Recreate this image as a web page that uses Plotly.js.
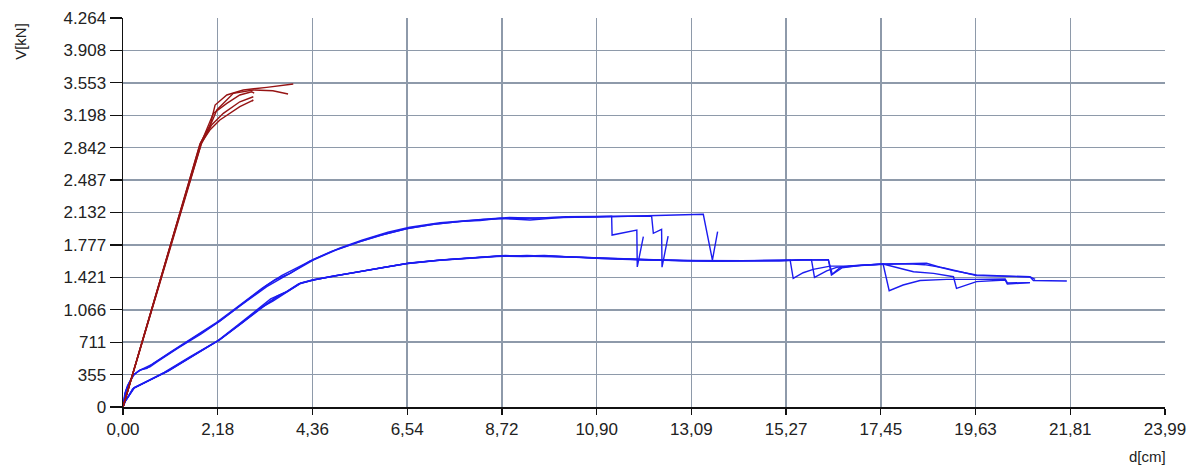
<!DOCTYPE html>
<html><head><meta charset="utf-8">
<script src="https://cdn.plot.ly/plotly-3.0.1.min.js"></script>
<style>html,body{margin:0;padding:0;background:#fff}#chart{width:1200px;height:470px}</style>
</head><body><div id="chart"></div>
<script>
// ---- axis ticks ----
const xTickVals = [0, 2.181, 4.362, 6.543, 8.724, 10.905, 13.085, 15.266, 17.447, 19.628, 21.809, 23.99];
const xTickText = ["0,00","2,18","4,36","6,54","8,72","10,90","13,09","15,27","17,45","19,63","21,81","23,99"];
const yTickVals = [0, 355.33, 710.67, 1066, 1421.33, 1776.67, 2132, 2487.33, 2842.67, 3198, 3553.33, 3908.67, 4264];
const yTickText = ["0","355","711","1.066","1.421","1.777","2.132","2.487","2.842","3.198","3.553","3.908","4.264"];

// ---- red series ----
const red1X = [0, 0.6, 1.2, 1.77, 2.0, 2.12, 2.39, 2.77, 3.31, 3.92];
const red1Y = [0, 975, 1945, 2880, 3073, 3310, 3420, 3475, 3504, 3541];
const red2X = [0, 0.6, 1.2, 1.78, 2.05, 2.16, 2.54, 3.0, 3.45, 3.80];
const red2Y = [0, 965, 1935, 2890, 3130, 3256, 3438, 3475, 3467, 3431];
const red3X = [0, 0.6, 1.2, 1.79, 2.08, 2.39, 2.69, 2.96, 3.02];
const red3Y = [0, 970, 1940, 2885, 3219, 3328, 3420, 3456, 3440];
const red4X = [0, 0.6, 1.2, 1.80, 2.04, 2.31, 2.69, 3.0];
const red4Y = [0, 968, 1938, 2880, 3091, 3219, 3346, 3401];
const red5X = [0, 0.6, 1.2, 1.81, 2.0, 2.23, 2.69, 3.0, 2.97];
const red5Y = [0, 972, 1942, 2900, 3036, 3146, 3292, 3365, 3350];

// ---- blue, upper group ----
const upAX = [0, 0.05, 0.12, 0.24, 0.39, 0.55, 0.70, 1.2, 1.7, 2.21, 2.7, 3.31, 3.6, 3.9, 4.38, 4.9, 5.46, 6.0, 6.57, 7.2, 7.8, 8.22, 8.68, 9.37, 10.14, 10.9, 11.25, 11.26, 11.55, 11.83, 11.84, 11.98];
const upAY = [0, 150, 241, 351, 405, 424, 479, 630, 780, 935, 1110, 1319, 1400, 1480, 1611, 1720, 1812, 1890, 1959, 2005, 2035, 2044, 2069, 2050, 2079, 2085, 2092, 1885, 1915, 1940, 1535, 1867];
const upBX = [0, 0.06, 0.14, 0.26, 0.42, 0.62, 0.80, 1.3, 1.8, 2.25, 2.8, 3.3, 3.65, 4.0, 4.4, 5.0, 5.5, 6.1, 6.6, 7.3, 7.9, 8.4, 8.9, 9.5, 10.2, 11.0, 11.6, 12.17, 12.21, 12.40, 12.41, 12.55];
const upBY = [0, 170, 260, 360, 410, 440, 500, 655, 800, 948, 1150, 1330, 1440, 1520, 1620, 1745, 1830, 1915, 1970, 2020, 2045, 2060, 2078, 2070, 2085, 2090, 2092, 2094, 1904, 1947, 1532, 1874];
const upCX = [0, 0.04, 0.10, 0.22, 0.36, 0.52, 0.68, 1.1, 1.6, 2.15, 2.6, 3.2, 3.5, 3.85, 4.3, 4.8, 5.4, 5.9, 6.5, 7.1, 7.7, 8.3, 8.8, 9.6, 10.4, 11.2, 12.2, 12.8, 13.36, 13.57, 13.69];
const upCY = [0, 140, 230, 340, 395, 430, 470, 605, 755, 925, 1085, 1300, 1395, 1465, 1600, 1705, 1805, 1880, 1950, 2000, 2030, 2055, 2065, 2075, 2080, 2085, 2096, 2105, 2112, 1611, 1922];

// ---- blue, lower group ----
const low1X = [0, 0.05, 0.12, 0.24, 0.47, 1.0, 1.6, 2.21, 2.7, 3.15, 3.5, 3.77, 4.07, 4.38, 4.9, 5.46, 6.0, 6.57, 7.3, 8.0, 8.68, 9.2, 9.76, 10.3, 10.9, 11.5, 12.06, 12.8, 13.59, 14.3, 15.13, 15.36, 15.43, 15.66, 15.89, 16.28, 16.66, 17.1, 17.50, 17.64, 17.96, 18.35, 18.96, 19.65, 20.31, 20.36, 20.88];
const low1Y = [0, 60, 113, 205, 260, 387, 560, 734, 910, 1082, 1190, 1264, 1356, 1392, 1440, 1483, 1530, 1575, 1610, 1635, 1655, 1650, 1655, 1645, 1630, 1620, 1611, 1605, 1600, 1602, 1604, 1610, 1410, 1472, 1508, 1544, 1544, 1556, 1567, 1275, 1337, 1386, 1399, 1399, 1403, 1360, 1363];
const low2X = [0, 0.06, 0.14, 0.27, 0.5, 1.05, 1.65, 2.25, 2.75, 3.2, 3.45, 3.8, 4.1, 4.4, 4.95, 5.5, 6.05, 6.6, 7.4, 8.1, 8.8, 9.4, 9.9, 10.5, 11.0, 11.7, 12.2, 13.0, 13.7, 14.5, 15.2, 15.5, 15.85, 15.92, 16.20, 16.43, 16.8, 17.5, 18.04, 18.20, 18.66, 19.12, 19.19, 19.65, 20.31, 20.36, 20.88];
const low2Y = [0, 70, 125, 215, 270, 395, 570, 745, 925, 1095, 1160, 1270, 1360, 1398, 1445, 1490, 1535, 1580, 1615, 1640, 1660, 1652, 1650, 1640, 1628, 1618, 1610, 1603, 1601, 1603, 1606, 1612, 1615, 1421, 1493, 1530, 1550, 1567, 1502, 1483, 1465, 1428, 1301, 1374, 1392, 1348, 1363];
const low3X = [0, 0.04, 0.11, 0.22, 0.45, 0.95, 1.55, 2.18, 2.65, 3.1, 3.4, 3.74, 4.04, 4.35, 4.85, 5.4, 5.95, 6.5, 7.2, 7.9, 8.6, 9.3, 9.8, 10.4, 10.95, 11.6, 12.1, 12.9, 13.6, 14.4, 15.1, 15.6, 16.24, 16.31, 16.51, 16.9, 17.5, 18.0, 18.50, 18.81, 19.12, 19.65, 20.3, 20.88, 20.96, 21.73];
const low3Y = [0, 55, 105, 198, 255, 380, 552, 725, 900, 1075, 1185, 1258, 1350, 1388, 1436, 1478, 1526, 1570, 1606, 1632, 1650, 1660, 1652, 1642, 1632, 1618, 1612, 1604, 1599, 1601, 1603, 1613, 1615, 1447, 1530, 1548, 1567, 1572, 1575, 1532, 1495, 1447, 1435, 1428, 1386, 1381];
const low4X = [0, 0.05, 0.13, 0.25, 0.48, 1.02, 1.62, 2.23, 2.72, 3.18, 3.55, 3.79, 4.09, 4.4, 4.92, 5.48, 6.02, 6.55, 7.35, 8.05, 8.7, 9.25, 9.7, 10.2, 10.85, 11.55, 12.0, 12.85, 13.55, 14.35, 15.15, 15.6, 16.24, 16.33, 16.55, 17.0, 17.55, 18.1, 18.45, 18.9, 19.3, 19.65, 20.4, 20.9, 21.0];
const low4Y = [0, 65, 118, 210, 262, 390, 563, 738, 915, 1085, 1215, 1266, 1354, 1394, 1442, 1486, 1532, 1572, 1612, 1637, 1657, 1655, 1662, 1648, 1634, 1622, 1614, 1606, 1602, 1604, 1602, 1611, 1612, 1455, 1525, 1552, 1565, 1570, 1560, 1525, 1480, 1440, 1432, 1424, 1398];

const redColor = "#961414";
const blueColor = "#1c1cf0";

function tr(x, y, color) {
  return {x: x, y: y, type: "scatter", mode: "lines",
          line: {color: color, width: 1.4}, hoverinfo: "skip", showlegend: false};
}

const data = [
  tr(upAX, upAY, blueColor), tr(upBX, upBY, blueColor), tr(upCX, upCY, blueColor),
  tr(low1X, low1Y, blueColor), tr(low2X, low2Y, blueColor), tr(low3X, low3Y, blueColor), tr(low4X, low4Y, blueColor),
  tr(red1X, red1Y, redColor), tr(red2X, red2Y, redColor), tr(red3X, red3Y, redColor),
  tr(red4X, red4Y, redColor), tr(red5X, red5Y, redColor)
];

const tickFont = {family: "Liberation Sans, Arial, sans-serif", size: 17, color: "#222"};
const gridColor = "#8e9aaa";

const layout = {
  width: 1200, height: 470,
  margin: {l: 123, r: 35, t: 18, b: 63},
  paper_bgcolor: "#fff", plot_bgcolor: "#fff",
  xaxis: {
    range: [0, 23.99], tickmode: "array", tickvals: xTickVals, ticktext: xTickText,
    showgrid: true, gridcolor: gridColor, gridwidth: 1.5, zeroline: false,
    showline: true, linecolor: "#111", linewidth: 1.5,
    ticks: "outside", ticklen: 6, tickcolor: "#111", tickwidth: 1.2,
    tickfont: tickFont, fixedrange: true
  },
  yaxis: {
    range: [0, 4264], tickmode: "array", tickvals: yTickVals, ticktext: yTickText,
    showgrid: true, gridcolor: gridColor, gridwidth: 1.5, zeroline: false,
    showline: true, linecolor: "#111", linewidth: 1.5,
    ticks: "outside", ticklen: 12, tickcolor: "#111", tickwidth: 1.2,
    tickfont: tickFont, fixedrange: true
  },
  annotations: [
    {text: "V[kN]", xref: "paper", yref: "paper", x: -0.098, y: 0.941, xanchor: "center", yanchor: "middle",
     textangle: -90, showarrow: false, font: {family: "Liberation Sans, Arial, sans-serif", size: 15, color: "#222"}},
    {text: "d[cm]", xref: "paper", yref: "paper", x: 0.983, y: -0.128, xanchor: "center", yanchor: "middle",
     showarrow: false, font: {family: "Liberation Sans, Arial, sans-serif", size: 15, color: "#222"}}
  ]
};

Plotly.newPlot("chart", data, layout, {displayModeBar: false, staticPlot: true});
</script></body></html>
